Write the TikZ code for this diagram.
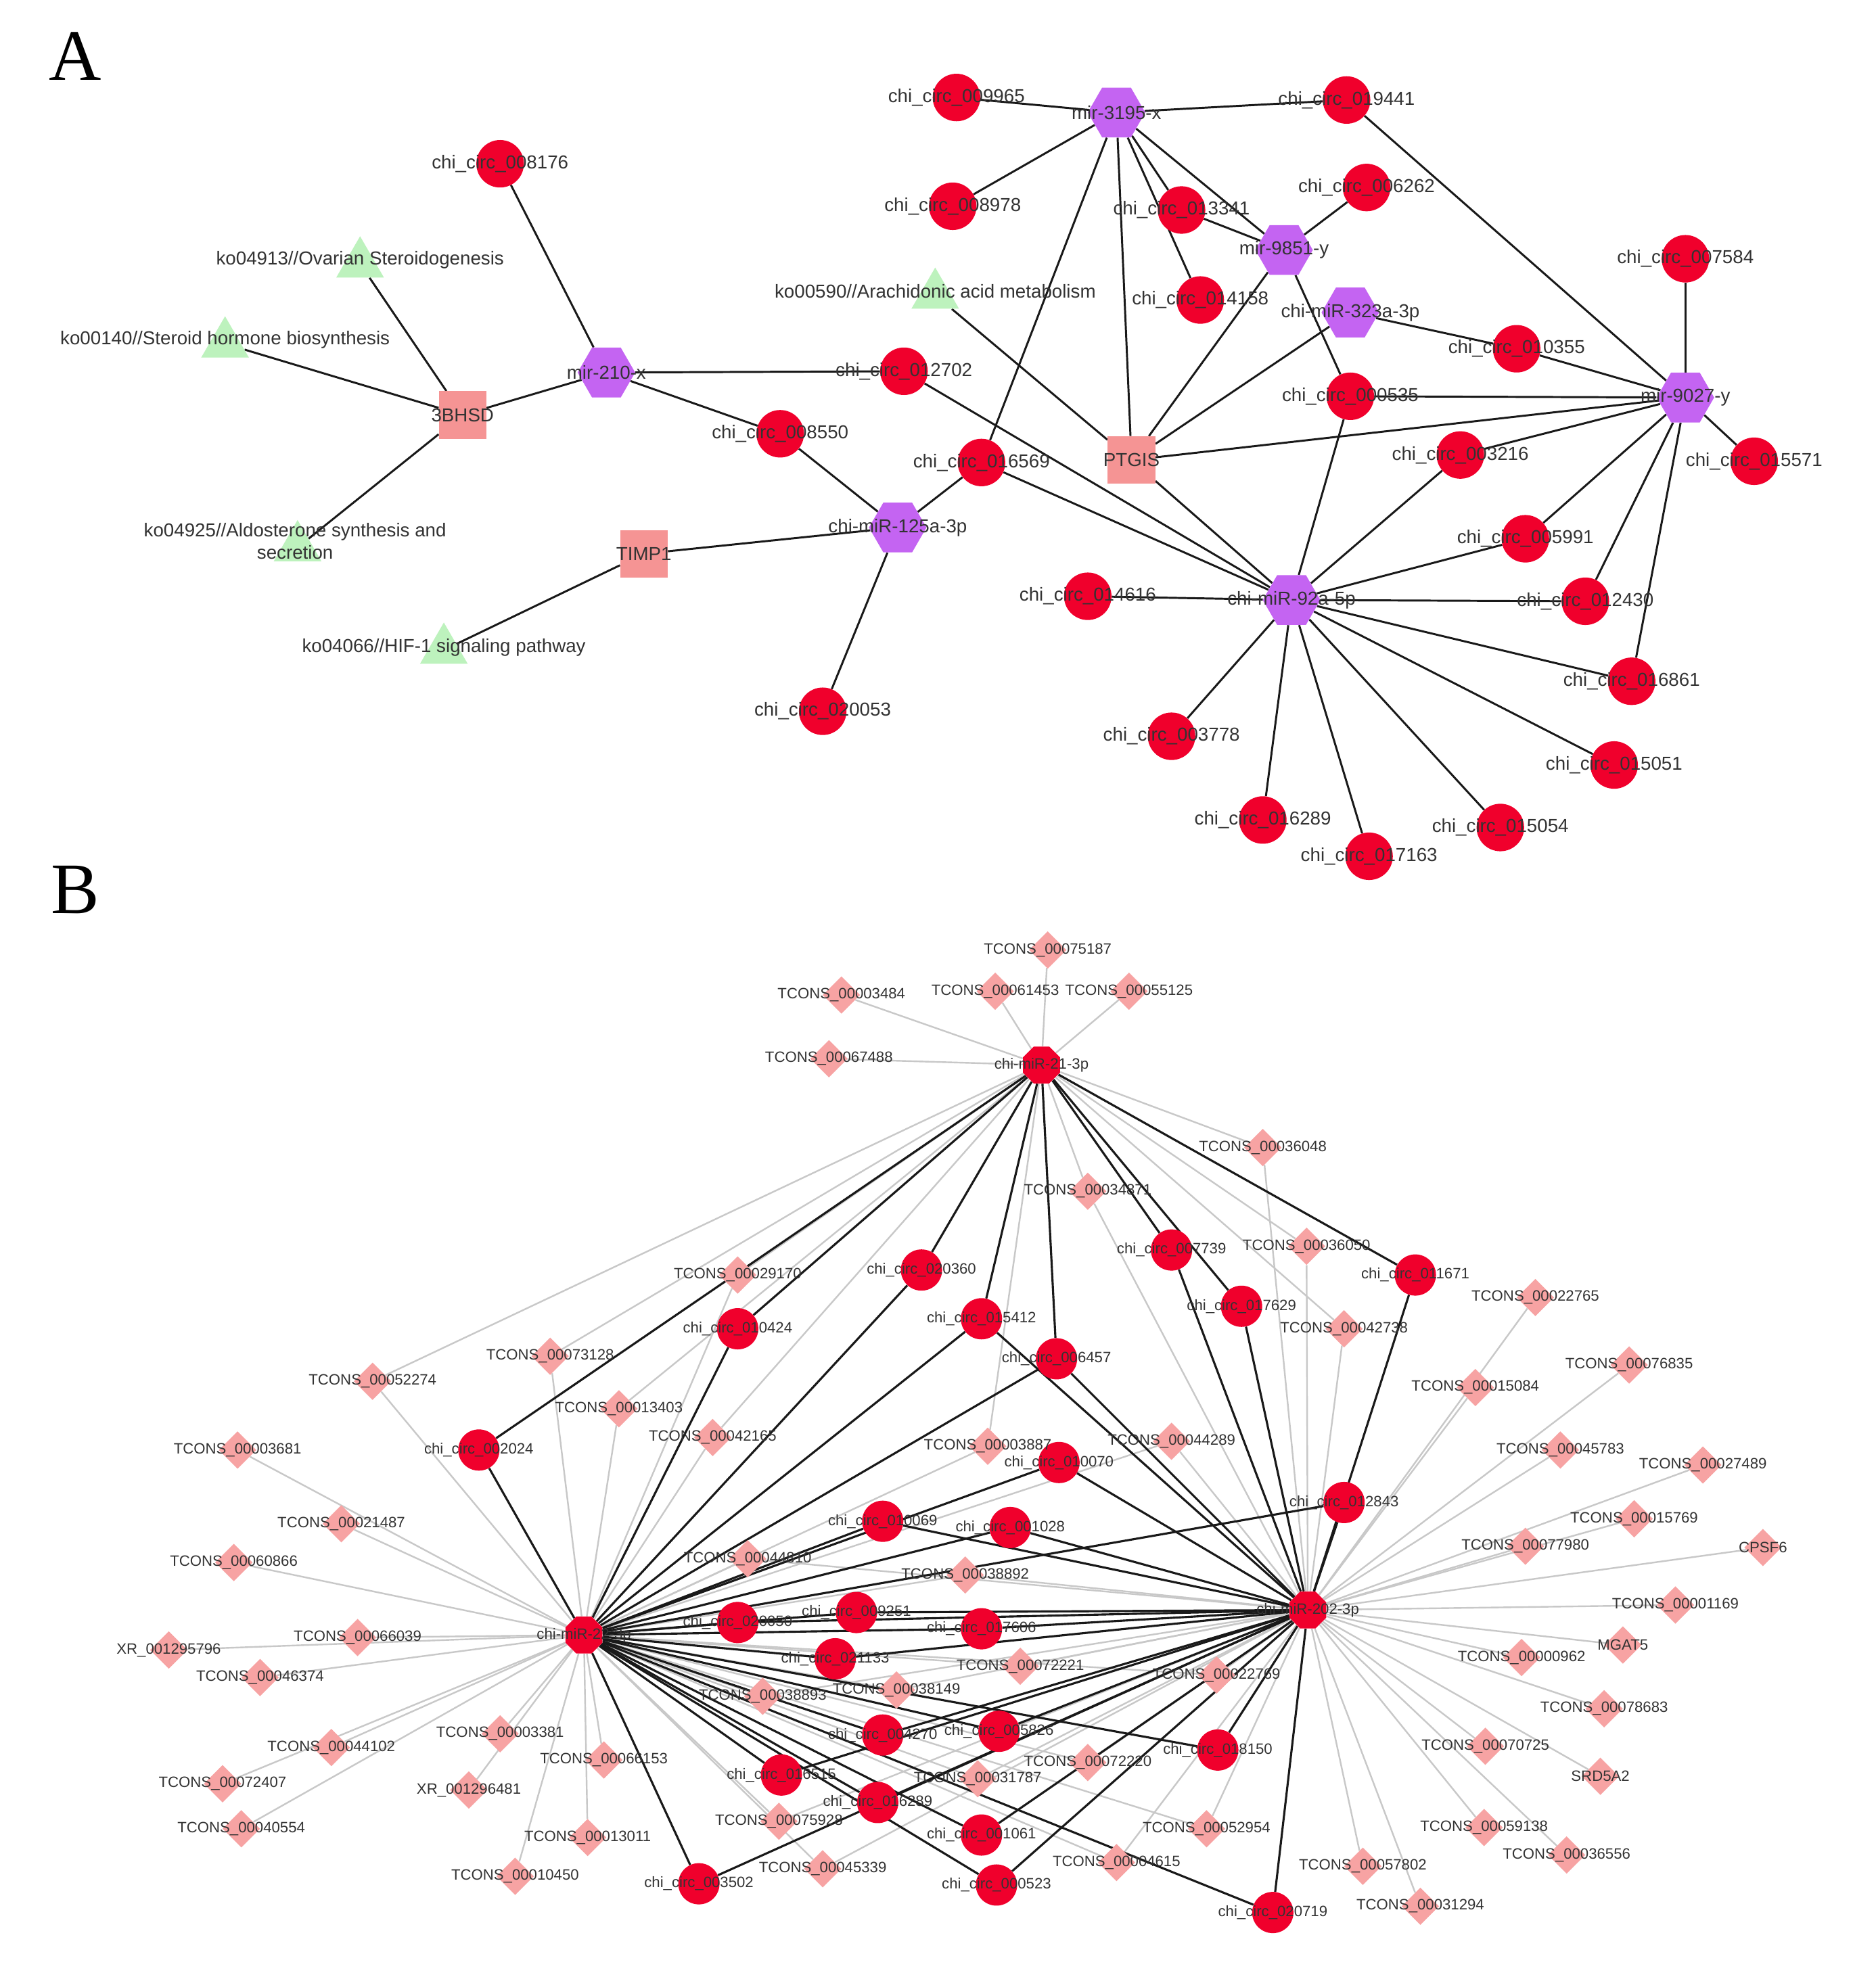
\documentclass[tikz,border=0pt]{standalone}
\usepackage{fontspec}
\setmainfont{Liberation Sans}
\newfontfamily\serifpanel{Liberation Serif}
\usetikzlibrary{shapes.geometric}
\definecolor{cr}{HTML}{F0002C}
\definecolor{pu}{HTML}{C464F2}
\definecolor{sq}{HTML}{F59494}
\definecolor{tr}{HTML}{BDF2BD}
\definecolor{dm}{HTML}{F7A3A3}
\definecolor{gl}{HTML}{C8C8C8}
\definecolor{tx}{HTML}{333333}
\pgfdeclarelayer{bg}
\pgfsetlayers{bg,main}
\tikzset{
 ca/.style={circle,fill=cr,minimum size=38pt,inner sep=0},
 ha/.style={regular polygon,regular polygon sides=6,fill=pu,minimum size=46pt,inner sep=0},
 sa/.style={rectangle,fill=sq,minimum size=38pt,inner sep=0},
 ta/.style={regular polygon,regular polygon sides=3,fill=tr,minimum size=44pt,inner sep=0},
 la/.style={text=tx,font=\fontsize{15}{15}\selectfont,inner sep=0},
 ea/.style={draw=black!90,line width=1.6pt},
 cb/.style={circle,fill=cr,minimum size=33pt,inner sep=0},
 hb/.style={regular polygon,regular polygon sides=8,fill=cr,minimum size=32pt,inner sep=0},
 db/.style={diamond,fill=dm,minimum size=30pt,inner sep=0},
 lb/.style={text=tx,font=\fontsize{12}{12}\selectfont,inner sep=0},
 eb/.style={draw=black!90,line width=1.7pt},
 gb/.style={draw=gl,line width=1.3pt},
}
\begin{document}
\begin{tikzpicture}[x=1pt,y=-1pt]
\begin{pgfonlayer}{bg}
\fill[white] (0,0) rectangle (1500,1580);
\end{pgfonlayer}
\useasboundingbox (0,0) rectangle (1500,1580);
\node[font=\serifpanel\fontsize{58}{58}\selectfont] at (60,45) {A};
\node[font=\serifpanel\fontsize{58}{58}\selectfont] at (60,712) {B};
% ---------- A ----------
\foreach \n/\x/\y in {009965/765/78,019441/1077/80,008978/762/165,013341/945/168,006262/1093/150,014158/960/240,010355/1213/279,007584/1348/207,000535/1080/317,015571/1403/369,003216/1168/364,005991/1220/431,012430/1268/481,016861/1305/545,015051/1291/612,015054/1200/662,017163/1095/685,016289/1010/656,003778/937/589,014616/870/477,016569/785/370,012702/723/297,008176/400/131,008550/624/347,020053/658/569}
  {\node[ca] (a\n) at (\x,\y) {}; \node[la] at (a\n) {chi\_circ\_\n};}
\foreach \id/\x/\y/\t in {m3195/893/90/mir-3195-x,m9851/1027/200/mir-9851-y,m323/1080/250/chi-miR-323a-3p,m9027/1348/318/mir-9027-y,m92/1033/480/chi-miR-92a-5p,m210/485/298/mir-210-x,m125/718/422/chi-miR-125a-3p}
  {\node[ha] (\id) at (\x,\y) {}; \node[la] at (\id) {\t};}
\foreach \id/\x/\y/\t in {ptgis/905/368/PTGIS,bhsd/370/332/3BHSD,timp/515/443/TIMP1}
  {\node[sa] (\id) at (\x,\y) {}; \node[la] at (\id) {\t};}
\node[ta] (k590) at (748,236) {};
\node[ta] (k4913) at (288,211) {};
\node[ta] (k140) at (180,275) {};
\node[ta] (k4925) at (238,438) {};
\node[ta] (k4066) at (355,520) {};
\node[la] at (748,233) {ko00590//Arachidonic acid metabolism};
\node[la] at (288,208) {ko04913//Ovarian Steroidogenesis};
\node[la] at (180,272) {ko00140//Steroid hormone biosynthesis};
\node[la,align=center] at (236,433) {ko04925//Aldosterone synthesis and\\[3pt]secretion};
\node[la] at (355,518) {ko04066//HIF-1 signaling pathway};
\begin{pgfonlayer}{bg}
\foreach \a/\b in {m3195/a009965,m3195/a019441,m3195/a008978,m3195/a013341,m3195/a014158,m3195/m9851,m3195/a016569,m3195/ptgis,a019441/m9027,
 m9851/a006262,m9851/a013341,m9851/a000535,m9851/ptgis,m323/a010355,m323/ptgis,a010355/m9027,
 m9027/a007584,m9027/a015571,m9027/a000535,m9027/a003216,m9027/a005991,m9027/a012430,m9027/a016861,m9027/ptgis,
 m92/a000535,m92/a003216,m92/a005991,m92/a012430,m92/a016861,m92/a015051,m92/a015054,m92/a017163,m92/a016289,m92/a003778,m92/a014616,m92/a016569,m92/a012702,m92/ptgis,
 ptgis/k590,m210/a008176,m210/a012702,m210/a008550,m210/bhsd,bhsd/k4913,bhsd/k140,bhsd/k4925,
 m125/a008550,m125/a016569,m125/timp,m125/a020053,timp/k4066}
  \draw[ea] (\a) -- (\b);
\end{pgfonlayer}
% ---------- B ----------
\foreach \id/\x/\y/\t in {H21/833/852/chi-miR-21-3p,HL/467/1308/chi-miR-22-3p,HR/1046/1288/chi-miR-202-3p}
  {\node[hb] (\id) at (\x,\y) {}; \node[lb] at (\id) {\t};}
\foreach \n/\x/\y in {020360/737/1016,010424/590/1063,015412/785/1055,006457/845/1087,002024/383/1160,007739/937/1000,017629/993/1045,011671/1132/1020,012843/1075/1202,010070/847/1170,010069/706/1217,001028/808/1222,020050/590/1298,009251/685/1290,017606/785/1303,021133/668/1327,004270/706/1388,005826/799/1385,016515/625/1420,016289/702/1442,001061/785/1468,000523/797/1508,003502/559/1507,018150/974/1400,020719/1018/1530}
  {\node[cb] (b\n) at (\x,\y) {}; \node[lb] at (b\n) {chi\_circ\_\n};}
\foreach \n/\x/\y in {00075187/838/760,00061453/796/793,00055125/903/793,00003484/673/796,00067488/663/847,00036048/1010/918,00034871/870/953,00036050/1045/997,00042738/1075/1063,00029170/590/1020,00073128/440/1085,00052274/298/1105,00013403/495/1127,00042165/570/1150,00003887/790/1157,00044289/937/1153,00044810/598/1247,00038892/772/1260,00072221/816/1333,00038149/717/1352,00038893/610/1357,00022769/973/1340,00072220/870/1410,00031787/782/1423,00075928/623/1457,00045339/658/1495,00052954/965/1463,00004615/893/1490,
00003681/190/1160,00021487/273/1219,00060866/187/1250,00066039/286/1310,00046374/208/1342,00044102/265/1398,00072407/178/1427,00040554/193/1463,00003381/400/1387,00066153/483/1408,00013011/470/1470,00010450/412/1501,
00022765/1228/1038,00076835/1303/1092,00015084/1180/1110,00045783/1248/1160,00027489/1362/1172,00015769/1307/1215,00077980/1220/1237,00001169/1340/1284,00000962/1217/1326,00078683/1283/1367,00070725/1188/1397,00059138/1187/1462,00036556/1253/1484,00057802/1090/1493,00031294/1136/1525}
  {\node[db] (t\n) at (\x,\y) {}; \node[lb] at (t\n) {TCONS\_\n};}
\foreach \id/\x/\y/\t in {xr1/135/1320/XR\_001295796,xr2/375/1432/XR\_001296481,cpsf/1410/1238/CPSF6,mgat/1298/1316/MGAT5,srd/1280/1421/SRD5A2}
  {\node[db] (\id) at (\x,\y) {}; \node[lb] at (\id) {\t};}
\begin{pgfonlayer}{bg}
\foreach \t/\h in {00075187/H21,00061453/H21,00055125/H21,00003484/H21,00067488/H21,00036048/H21,00036048/HR,00034871/H21,00034871/HR,00036050/H21,00036050/HR,00042738/H21,00042738/HR,00029170/H21,00029170/HL,00073128/H21,00073128/HL,00052274/H21,00052274/HL,00013403/HL,00013403/H21,00042165/HL,00042165/H21,00003887/HL,00003887/H21,00044289/HL,00044289/HR,00044810/HL,00044810/HR,00038892/HL,00038892/HR,00072221/HL,00072221/HR,00038149/HL,00038149/HR,00038893/HL,00038893/HR,00022769/HL,00022769/HR,00072220/HL,00072220/HR,00031787/HL,00031787/HR,00075928/HL,00075928/HR,00045339/HL,00045339/HR,00052954/HL,00052954/HR,00004615/HL,00004615/HR,
00003681/HL,00021487/HL,00060866/HL,00066039/HL,00046374/HL,00044102/HL,00072407/HL,00040554/HL,00003381/HL,00066153/HL,00013011/HL,00010450/HL,
00022765/HR,00076835/HR,00015084/HR,00045783/HR,00027489/HR,00015769/HR,00077980/HR,00001169/HR,00000962/HR,00078683/HR,00070725/HR,00059138/HR,00036556/HR,00057802/HR,00031294/HR}
  \draw[gb] (t\t) -- (\h);
\foreach \a/\h in {xr1/HL,xr2/HL,cpsf/HR,mgat/HR,srd/HR} \draw[gb] (\a) -- (\h);
\foreach \c/\h in {020360/H21,020360/HL,010424/H21,010424/HL,015412/H21,015412/HL,015412/HR,006457/H21,006457/HL,006457/HR,002024/H21,002024/HL,007739/H21,007739/HR,017629/H21,017629/HR,011671/H21,011671/HR}
  \draw[eb] (b\c) -- (\h);
\foreach \c in {012843,010070,010069,001028,020050,009251,017606,021133,004270,005826,016515,016289,001061,000523,003502,018150,020719}
  {\draw[eb] (b\c) -- (HL); \draw[eb] (b\c) -- (HR);}
\end{pgfonlayer}
\end{tikzpicture}
\end{document}
